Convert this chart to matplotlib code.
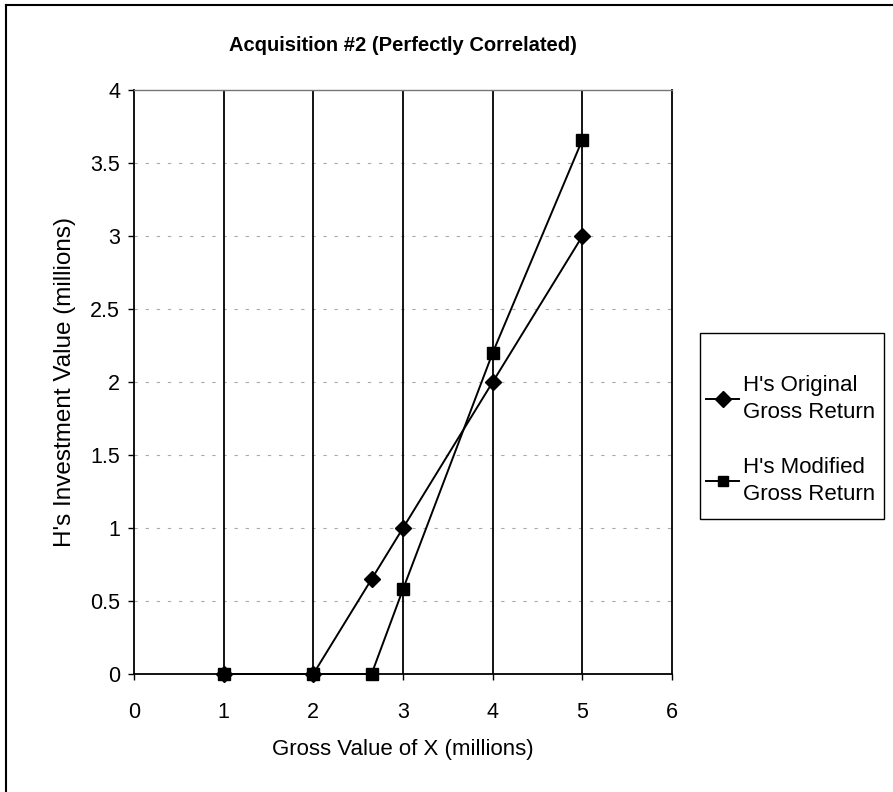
import matplotlib
matplotlib.use("Agg")
import matplotlib.pyplot as plt
from matplotlib.lines import Line2D
from matplotlib.patches import Rectangle

plt.rcParams['font.family'] = ['Liberation Sans', 'DejaVu Sans']

# data
gross_x = [1, 2, 2.65, 3, 4, 5]
original_return = [0, 0, 0.65, 1, 2, 3]
modified_return = [0, 0, 0, 0.58, 2.2, 3.66]
x_ticks = [0, 1, 2, 3, 4, 5, 6]
y_ticks = [0, 0.5, 1, 1.5, 2, 2.5, 3, 3.5, 4]
y_tick_labels = ["0", "0.5", "1", "1.5", "2", "2.5", "3", "3.5", "4"]

fig = plt.figure(figsize=(8.93, 7.92), dpi=100)
ax = fig.add_axes([0.150, 0.149, 0.6025, 0.737])

# faint dotted horizontal grid, solid vertical grid
for y in y_ticks[1:-1]:
    ax.axhline(y, color='#aaaaaa', lw=0.8, ls=(0, (3, 7)), zorder=1)
for x in x_ticks[1:-1]:
    ax.axvline(x, color='black', lw=1.3, zorder=1)

ax.plot(gross_x, original_return, color='black', lw=1.4, marker='D',
        markersize=8.5, zorder=3, clip_on=False)
ax.plot(gross_x, modified_return, color='black', lw=1.4, marker='s',
        markersize=8, zorder=3, clip_on=False)

ax.set_xlim(0, 6)
ax.set_ylim(0, 4)
ax.set_xticks(x_ticks)
ax.set_yticks(y_ticks)
ax.set_yticklabels(y_tick_labels)
ax.tick_params(axis='both', direction='out', length=4, width=1,
               labelsize=15.5, pad=6)
ax.tick_params(axis='x', pad=16)

for side in ['left', 'bottom', 'right']:
    ax.spines[side].set_linewidth(1.3)
ax.spines['top'].set_color('#777777')
ax.spines['top'].set_linewidth(1.0)

ax.set_title("Acquisition #2 (Perfectly Correlated)", fontsize=14.5,
             fontweight='bold', pad=28)
ax.set_xlabel("Gross Value of X (millions)", fontsize=16, labelpad=12)
ax.set_ylabel("H's Investment Value (millions)", fontsize=17.5, labelpad=10)

# legend box (frame drawn on its own so it can sit like the original)
fig.add_artist(Rectangle((700 / 893, 1 - 519 / 792), 184 / 893, 186 / 792,
                         transform=fig.transFigure, facecolor='white',
                         edgecolor='black', lw=1.0, zorder=2))
handles = [
    Line2D([], [], color='black', lw=1.4, marker='D', markersize=8),
    Line2D([], [], color='black', lw=1.4, marker='s', markersize=7.5),
]
labels = ["H's Original\nGross Return", "H's Modified\nGross Return"]
leg = fig.legend(handles, labels, loc='center left',
                 bbox_to_anchor=(706 / 893, 1 - 440 / 792),
                 bbox_transform=fig.transFigure, borderaxespad=0,
                 borderpad=0, fontsize=16, frameon=False,
                 handlelength=1.5, handletextpad=0.15, labelspacing=1.5)
leg.set_zorder(3)
for t in leg.get_texts():
    t.set_linespacing(1.42)

# partial outer border (left and top edges visible in the scan)
fig.add_artist(Line2D([0.007, 0.007], [0.0, 0.994], color='black', lw=1.5,
                      transform=fig.transFigure))
fig.add_artist(Line2D([0.007, 1.0], [0.994, 0.994], color='black', lw=1.5,
                      transform=fig.transFigure))

fig.savefig("out.png", dpi=100)
